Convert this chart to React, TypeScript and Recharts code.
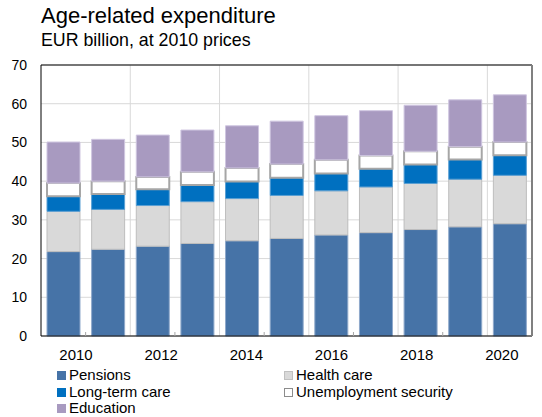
import React from "react";
import {
  BarChart,
  Bar,
  XAxis,
  YAxis,
  CartesianGrid,
  Legend,
  ReferenceLine,
} from "recharts";

const years = [2010, 2011, 2012, 2013, 2014, 2015, 2016, 2017, 2018, 2019, 2020];
const pensions = [21.8, 22.4, 23.2, 23.9, 24.6, 25.2, 26.1, 26.7, 27.5, 28.2, 29.0];
const healthCare = [10.4, 10.3, 10.5, 10.8, 10.9, 11.1, 11.4, 11.8, 11.9, 12.3, 12.5];
const longTermCare = [3.9, 4.0, 4.2, 4.3, 4.4, 4.6, 4.5, 4.7, 4.9, 5.1, 5.2];
const unemployment = [3.4, 3.3, 3.2, 3.4, 3.5, 3.5, 3.5, 3.4, 3.4, 3.3, 3.4];
const education = [10.6, 10.8, 10.8, 10.8, 10.9, 11.1, 11.4, 11.6, 11.9, 12.1, 12.2];

const yTicks = [0, 10, 20, 30, 40, 50, 60, 70];

const data = years.map((y, i) => ({
  year: y,
  pensions: pensions[i],
  health: healthCare[i],
  ltc: longTermCare[i],
  unemp: unemployment[i],
  edu: education[i],
}));

const series = [
  { key: "pensions", name: "Pensions", fill: "#4673A7", stroke: "#8FA9CB", width: 1 },
  { key: "health", name: "Health care", fill: "#D9D9D9", stroke: "#BDBDBD", width: 1 },
  { key: "ltc", name: "Long-term care", fill: "#0070C0", stroke: "#5A9FD4", width: 1 },
  { key: "unemp", name: "Unemployment security", fill: "#FFFFFF", stroke: "#A6A6A6", width: 2 },
  { key: "edu", name: "Education", fill: "#A89AC0", stroke: "#CFC6E0", width: 1 },
];

const font = "'Liberation Sans', Arial, sans-serif";
const nCats = years.length;

// every other year gets a label; tick marks sit on the category boundary after it
const YearTick = (props: any) => {
  const { x, y, index, payload } = props;
  const half = payload && payload.offset ? payload.offset : 491 / nCats / 2;
  if (index % 2 !== 0) return <g />;
  const shift = 12.7 - 2.05 * index;
  return (
    <g>
      {index < nCats - 1 && (
        <line
          x1={x + half}
          x2={x + half}
          y1={y - 4}
          y2={y}
          stroke="#A6A6A6"
        />
      )}
      <text
        x={x + shift}
        y={y + 24}
        textAnchor="middle"
        fill="#000"
        fontSize={15}
        fontFamily={font}
      >
        {payload.value}
      </text>
    </g>
  );
};

const LegendBox = () => (
  <div
    style={{
      display: "grid",
      gridTemplateColumns: "227px 230px",
      fontFamily: font,
      fontSize: 15,
      color: "#000",
      lineHeight: "16.7px",
    }}
  >
    {series.map((s) => (
      <div key={s.key} style={{ display: "flex", alignItems: "center" }}>
        <span
          style={{
            display: "inline-block",
            width: 7,
            height: 7,
            background: s.fill,
            border: `1px solid ${s.key === "unemp" ? "#8C8C8C" : s.key === "health" ? "#C0C0C0" : s.fill}`,
            marginRight: 3,
          }}
        />
        <span>{s.name}</span>
      </div>
    ))}
  </div>
);

const App: React.FC = () => {
  return (
    <div
      style={{
        position: "absolute",
        left: 0,
        top: 0,
        width: 542,
        height: 417,
        background: "#fff",
        fontFamily: font,
      }}
    >
      <div
        style={{
          position: "absolute",
          left: 41,
          top: 5,
          fontSize: 22,
          lineHeight: "22px",
          whiteSpace: "nowrap",
        }}
      >
        Age-related expenditure
      </div>
      <div
        style={{
          position: "absolute",
          left: 41,
          top: 32,
          fontSize: 17.8,
          lineHeight: "17.8px",
          whiteSpace: "nowrap",
        }}
      >
        EUR billion, at 2010 prices
      </div>
      <BarChart
        width={542}
        height={417}
        data={data}
        margin={{ top: 65, right: 8, left: 0, bottom: 51 }}
        barSize={33}
      >
        <CartesianGrid
          stroke="#D9D9D9"
          strokeWidth={1}
          verticalCoordinatesGenerator={({ offset }: any) =>
            [2, 4, 6, 8, 10].map((k) => offset.left + (offset.width * k) / nCats)
          }
        />
        <XAxis
          dataKey="year"
          interval={0}
          height={30}
          tickLine={false}
          tickSize={0}
          tickMargin={0}
          axisLine={{ stroke: "#000" }}
          tick={<YearTick />}
        />
        <YAxis
          domain={[0, 70]}
          ticks={yTicks}
          width={41}
          axisLine={{ stroke: "#000" }}
          tickLine={false}
          tickSize={4}
          tickMargin={10}
          tick={{ fill: "#000", fontSize: 14, fontFamily: font }}
        />
        <YAxis
          yAxisId="right"
          orientation="right"
          width={2}
          tick={false}
          tickLine={false}
          axisLine={{ stroke: "#808080", strokeWidth: 2 }}
        />
        <ReferenceLine y={70} stroke="#000" strokeWidth={1} />
        {series.map((s) => (
          <Bar
            key={s.key}
            dataKey={s.key}
            name={s.name}
            stackId="a"
            fill={s.fill}
            stroke={s.stroke}
            strokeWidth={s.width}
            isAnimationActive={false}
          />
        ))}
        <Legend
          layout="horizontal"
          verticalAlign="middle"
          align="center"
          wrapperStyle={{ left: 57, top: 367, width: 470 }}
          content={() => <LegendBox />}
        />
      </BarChart>
    </div>
  );
};

export default App;
